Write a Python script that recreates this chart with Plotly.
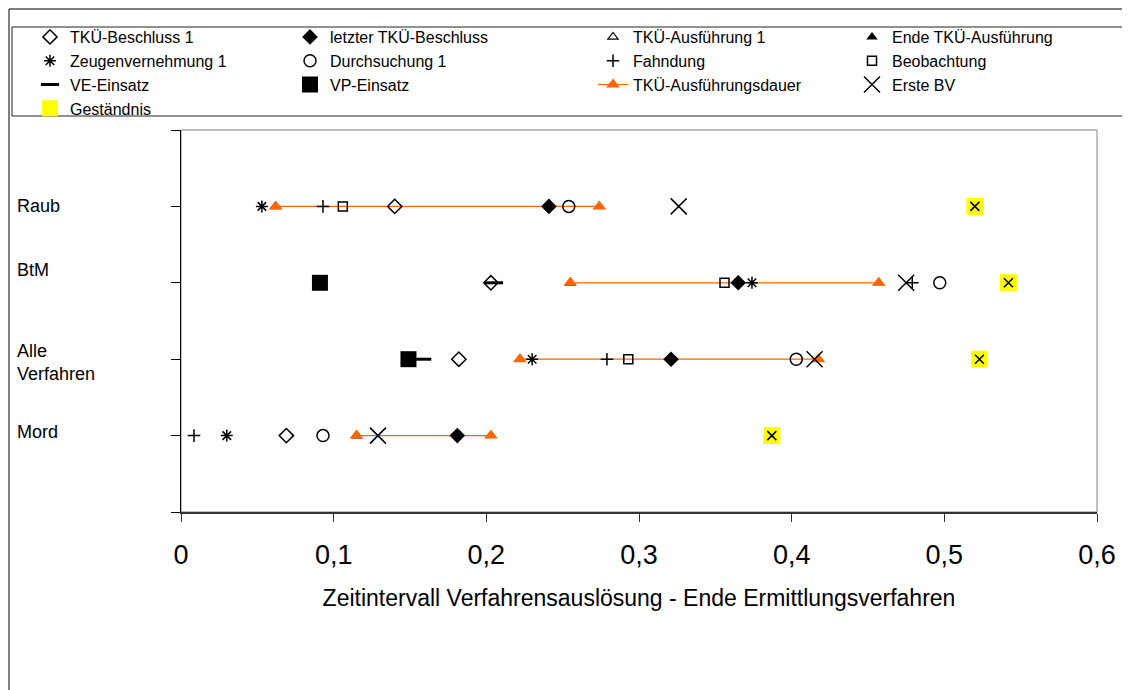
import plotly.graph_objects as go

# categories from top to bottom
categories = ["Raub", "BtM", "Alle<br>Verfahren", "Mord"]

# time interval values per category (Raub, BtM, Alle Verfahren, Mord)
beschluss_1 = [0.140, 0.203, 0.182, 0.069]
letzter_beschluss = [0.241, 0.365, 0.321, 0.181]
ausfuehrung_1 = [0.062, 0.255, 0.222, 0.115]
ende_ausfuehrung = [0.274, 0.457, 0.4175, 0.203]
zeugen_1 = [0.053, 0.374, 0.230, 0.030]
durchsuchung_1 = [0.254, 0.497, 0.403, 0.093]
fahndung = [0.093, 0.479, 0.279, 0.0085]
beobachtung = [0.106, 0.356, 0.293, None]
ve_einsatz = [None, 0.205, 0.158, None]
vp_einsatz = [None, 0.091, 0.149, None]
erste_bv = [0.326, 0.475, 0.415, 0.129]
gestaendnis = [0.520, 0.542, 0.523, 0.387]

x_ticks = [0, 0.1, 0.2, 0.3, 0.4, 0.5, 0.6]

FONT = "Arial, Liberation Sans, sans-serif"
OFF = 8  # default page margin of the html body
W, H = 1130 - OFF, 690 - OFF
PW, PH = 916, 382
L, T = 181 - OFF, 130 - OFF
R, B = W - L - PW, H - T - PH


def px(x):
    # screen pixel -> paper x
    return (x - OFF - L) / PW


def py(y):
    # screen pixel -> paper y
    return (H - B - (y - OFF)) / PH


y_pos = [len(categories) - i for i in range(len(categories))]

fig = go.Figure()


def add_markers(name, xs, symbol, size, group, rank, lw, color="black",
                line_w=0, show=True):
    fig.add_trace(go.Scatter(
        x=xs, y=y_pos, mode="markers", name=name,
        marker=dict(symbol=symbol, size=size, color=color,
                    line=dict(width=line_w, color=color)),
        legendgroup=group, legendrank=rank, legendwidth=lw,
        showlegend=show, cliponaxis=False,
    ))


# TKÜ start / end markers sit underneath the orange duration bars
add_markers("TKÜ-Ausführung 1", ausfuehrung_1, "triangle-up-open", 9, "c3", 8, 214, line_w=1.2)
add_markers("Ende TKÜ-Ausführung", ende_ausfuehrung, "triangle-up", 10, "c4", 11, 200)

# duration line (one segment per category)
dur_x, dur_y = [], []
for s, e, yv in zip(ausfuehrung_1, ende_ausfuehrung, y_pos):
    dur_x += [s, e, None]
    dur_y += [yv, yv, None]
fig.add_trace(go.Scatter(
    x=dur_x, y=dur_y, mode="lines+markers", name="TKÜ-Ausführungsdauer",
    line=dict(color="#FF6600", width=1.2),
    marker=dict(symbol="triangle-up", size=12, color="#FF6600"),
    legendgroup="c3", legendrank=10, legendwidth=214, cliponaxis=False,
))

add_markers("TKÜ-Beschluss 1", beschluss_1, "diamond-open", 11, "c1", 1, 215, line_w=1.5)
add_markers("letzter TKÜ-Beschluss", letzter_beschluss, "diamond", 12, "c2", 5, 258)
add_markers("Zeugenvernehmung 1", zeugen_1, "asterisk-open", 10, "c1", 2, 215, line_w=1.5)
add_markers("Durchsuchung 1", durchsuchung_1, "circle-open", 12, "c2", 6, 258, line_w=1.5)
add_markers("Fahndung", fahndung, "cross-thin-open", 9, "c3", 9, 214, line_w=1.5)
add_markers("Beobachtung", beobachtung, "square-open", 9, "c4", 12, 200, line_w=1.5)
add_markers("VE-Einsatz", ve_einsatz, "line-ew-open", 13, "c1", 3, 215, line_w=3)
add_markers("VP-Einsatz", vp_einsatz, "square", 16, "c2", 7, 258)
add_markers("Erste BV", erste_bv, "x-thin-open", 16, "c4", 13, 200, line_w=1.5)
add_markers("Geständnis", gestaendnis, "square", 17, "c1", 4, 215, color="#FFFF00")
add_markers("Geständnis X", gestaendnis, "x-thin-open", 9, "c1", 4, 215, line_w=1.5, show=False)

# category labels at the far left
label_shift = [0, 13, -3, 4]
for cat, yv, sh in zip(categories, y_pos, label_shift):
    fig.add_annotation(x=px(15), xref="paper", y=yv, yref="y", yshift=sh,
                       text=cat, showarrow=False, xanchor="left", align="left",
                       font=dict(size=18, family=FONT, color="black"))

shapes = [
    # outer chart frame
    dict(type="rect", xref="paper", yref="paper", x0=px(9), x1=px(1145),
         y0=py(705), y1=py(9), line=dict(color="black", width=1)),
    # legend box
    dict(type="rect", xref="paper", yref="paper", x0=px(12), x1=px(1145),
         y0=py(116), y1=py(27), line=dict(color="#222222", width=1)),
    # plot area border
    dict(type="rect", xref="paper", yref="paper", x0=0, x1=1, y0=0, y1=1,
         line=dict(color="#808080", width=1), layer="below"),
]

fig.update_layout(
    width=W, height=H,
    margin=dict(l=L, r=R, t=T, b=B, autoexpand=False),
    paper_bgcolor="white", plot_bgcolor="white",
    separators=", ",
    font=dict(family=FONT, color="black"),
    shapes=shapes,
    showlegend=True,
    legend=dict(orientation="h", traceorder="grouped", x=px(30), xanchor="left",
                y=py(20), yanchor="top", font=dict(size=16, family=FONT, color="black"),
                bgcolor="rgba(0,0,0,0)", borderwidth=0, itemclick=False,
                itemdoubleclick=False),
    xaxis=dict(range=[0, 0.6], tickvals=x_ticks, showgrid=False, zeroline=False,
               showline=True, linecolor="#333333", linewidth=1.5,
               ticks="outside", ticklen=8, tickcolor="#333333",
               ticklabelstandoff=10,
               tickfont=dict(size=27, family=FONT, color="black"),
               title=dict(text="Zeitintervall Verfahrensauslösung - Ende Ermittlungsverfahren",
                          font=dict(size=23, family=FONT, color="black"), standoff=21)),
    yaxis=dict(range=[0, 5], tickvals=[0, 1, 2, 3, 4, 5], showticklabels=False,
               showgrid=False, zeroline=False, showline=True, linecolor="black",
               linewidth=1, ticks="outside", ticklen=9, tickcolor="black"),
    hovermode="closest",
)

fig.write_html("out.html")
